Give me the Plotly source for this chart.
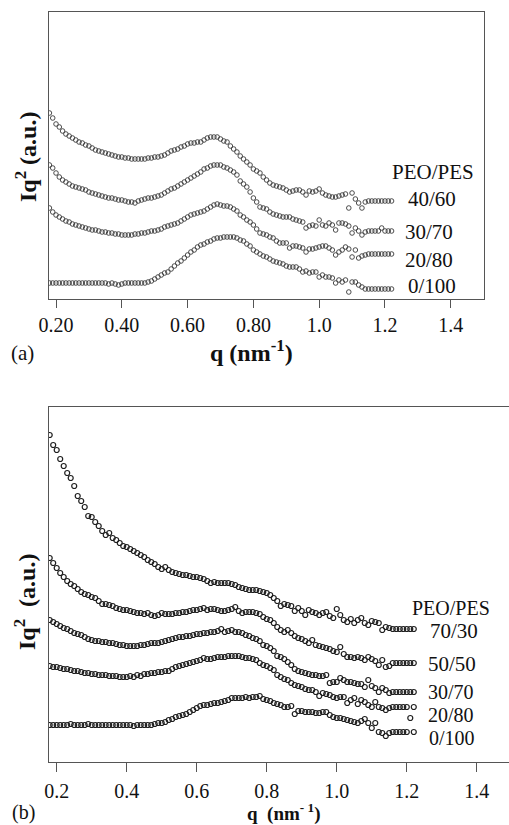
import plotly.graph_objects as go

# ---------------- data ----------------
Q = [0.18, 0.19, 0.20, 0.21, 0.22, 0.23, 0.24, 0.25, 0.26, 0.27,
     0.28, 0.29, 0.30, 0.31, 0.32, 0.33, 0.34, 0.35, 0.36, 0.37,
     0.38, 0.39, 0.40, 0.41, 0.42, 0.43, 0.44, 0.45, 0.46, 0.47,
     0.48, 0.49, 0.50, 0.51, 0.52, 0.53, 0.54, 0.55, 0.56, 0.57,
     0.58, 0.59, 0.60, 0.61, 0.62, 0.63, 0.64, 0.65, 0.66, 0.67,
     0.68, 0.69, 0.70, 0.71, 0.72, 0.73, 0.74, 0.75, 0.76, 0.77,
     0.78, 0.79, 0.80, 0.81, 0.82, 0.83, 0.84, 0.85, 0.86, 0.87,
     0.88, 0.89, 0.90, 0.91, 0.92, 0.93, 0.94, 0.95, 0.96, 0.97,
     0.98, 0.99, 1.00, 1.01, 1.02, 1.03, 1.04, 1.05, 1.06, 1.07,
     1.08, 1.09, 1.10, 1.11, 1.12, 1.13, 1.14, 1.15, 1.16, 1.17,
     1.18, 1.19, 1.20, 1.21, 1.22]

# panel (a): Iq^2 (a.u.), vertically offset curves
A_40_60 = [186, 181, 175, 172, 168, 165, 163, 161, 159, 157,
           156, 154, 153, 151, 149, 148, 147, 146, 145, 144,
           143, 142, 142, 141, 141, 140, 140, 140, 140, 140,
           141, 141, 142, 142, 143, 144, 146, 148, 149, 150,
           152, 153, 155, 156, 156, 157, 157, 159, 161, 162,
           162, 162, 160, 158, 157, 153, 150, 147, 143, 140,
           137, 134, 130, 128, 126, 122, 119, 116, 114, 113,
           112, 111, 109, 107, 108, 109, 109, 107, 104, 108,
           107, 108, 110, 106, 104, 103, 102, 102, 103, 104,
           105, 91, 106, 100, 96, 91, 97, 98, 98, 98,
           98, 98, 98, 98, 98]
A_30_70 = [134, 131, 126, 122, 119, 117, 115, 113, 112, 111,
           110, 109, 107, 106, 105, 104, 103, 102, 101, 101,
           100, 99, 99, 98, 97, 97, 96, 98, 99, 100,
           101, 101, 102, 103, 104, 106, 108, 110, 111, 113,
           115, 117, 119, 121, 123, 125, 127, 130, 131, 133,
           134, 134, 134, 132, 131, 129, 127, 124, 118, 115,
           112, 107, 101, 97, 92, 91, 90, 87, 85, 84,
           83, 82, 82, 82, 80, 79, 78, 77, 71, 73,
           74, 73, 79, 74, 73, 76, 74, 69, 76, 76,
           75, 73, 66, 71, 68, 64, 67, 68, 68, 68,
           68, 71, 68, 68, 68]
A_20_80 = [91, 87, 84, 82, 80, 78, 77, 75, 74, 73,
           72, 71, 70, 69, 69, 68, 67, 67, 66, 66,
           65, 65, 64, 64, 64, 64, 65, 65, 66, 66,
           67, 68, 68, 69, 70, 72, 73, 74, 75, 76,
           78, 80, 82, 84, 85, 86, 87, 88, 90, 92,
           94, 95, 94, 93, 93, 92, 90, 88, 84, 82,
           79, 77, 74, 70, 66, 65, 64, 62, 61, 58,
           56, 56, 56, 51, 53, 53, 52, 51, 47, 50,
           50, 51, 52, 53, 53, 51, 49, 44, 47, 49,
           52, 50, 42, 49, 41, 43, 44, 45, 45, 45,
           45, 45, 45, 45, 45]
A_0_100 = [16, 16, 16, 16, 16, 16, 16, 16, 16, 16,
           16, 16, 16, 16, 16, 16, 16, 16, 15, 16,
           15, 14, 15, 16, 16, 16, 16, 16, 16, 16,
           17, 18, 20, 22, 24, 26, 27, 30, 33, 36,
           38, 41, 44, 47, 49, 52, 54, 55, 57, 58,
           60, 61, 61, 62, 62, 62, 62, 61, 59, 58,
           55, 53, 49, 47, 45, 43, 42, 40, 38, 37,
           36, 35, 33, 32, 32, 32, 30, 27, 28, 26,
           27, 27, 22, 24, 22, 22, 21, 16, 19, 17,
           19, 7, 17, 17, 14, 12, 10, 10, 10, 10,
           10, 10, 10, 10, 10]

# panel (b)
B_70_30 = [327, 317, 312, 303, 296, 289, 284, 276, 266, 261,
           255, 246, 245, 240, 236, 231, 227, 229, 224, 222,
           219, 216, 215, 213, 211, 209, 207, 205, 202, 200,
           198, 195, 193, 195, 192, 190, 189, 188, 187, 187,
           186, 185, 185, 184, 183, 181, 179, 180, 179, 179,
           179, 179, 178, 177, 175, 174, 173, 172, 172, 172,
           171, 170, 169, 167, 164, 161, 156, 158, 157, 156,
           151, 154, 151, 147, 152, 150, 149, 147, 149, 150,
           146, 144, 153, 147, 142, 140, 143, 139, 142, 144,
           139, 137, 141, 140, 139, 132, 135, 134, 133, 133,
           133, 133, 133, 133, 133]
B_50_50 = [204, 199, 194, 189, 185, 181, 178, 176, 173, 170,
           168, 167, 165, 164, 161, 158, 158, 157, 156, 154,
           153, 152, 152, 151, 150, 149, 149, 148, 149, 147,
           146, 147, 149, 148, 148, 148, 149, 149, 150, 150,
           151, 152, 152, 153, 154, 152, 153, 153, 152, 151,
           151, 152, 153, 155, 151, 149, 150, 150, 150, 149,
           148, 145, 143, 142, 139, 135, 132, 130, 132, 129,
           126, 124, 123, 121, 119, 122, 117, 116, 115, 114,
           113, 111, 110, 115, 108, 105, 105, 104, 105, 104,
           102, 105, 103, 101, 97, 102, 95, 96, 99, 99,
           99, 99, 99, 99, 99]
B_30_70 = [142, 140, 138, 136, 134, 133, 131, 129, 128, 127,
           125, 123, 122, 121, 121, 120, 120, 119, 119, 118,
           117, 117, 116, 116, 116, 116, 117, 117, 118, 119,
           119, 119, 120, 121, 122, 123, 124, 125, 125, 126,
           126, 127, 128, 128, 129, 129, 130, 130, 131, 133,
           130, 131, 132, 130, 130, 129, 127, 126, 124, 123,
           121, 117, 116, 114, 111, 106, 105, 103, 100, 97,
           93, 91, 90, 89, 88, 87, 87, 86, 86, 87,
           79, 80, 80, 84, 82, 80, 80, 79, 78, 78,
           75, 82, 76, 74, 70, 74, 72, 69, 70, 70,
           70, 70, 70, 70, 70]
B_20_80 = [96, 95, 95, 94, 93, 93, 92, 91, 91, 90,
           89, 89, 88, 88, 87, 87, 87, 86, 86, 86,
           85, 85, 85, 86, 85, 87, 86, 88, 88, 89,
           89, 90, 90, 91, 91, 93, 95, 96, 97, 98,
           99, 100, 101, 102, 104, 103, 103, 104, 105, 105,
           105, 106, 106, 106, 106, 105, 104, 104, 103, 102,
           99, 97, 96, 94, 92, 87, 85, 83, 82, 79,
           77, 76, 75, 73, 72, 72, 70, 66, 69, 68,
           67, 65, 64, 65, 65, 59, 62, 64, 58, 62,
           60, 57, 55, 60, 55, 54, 52, 54, 55, 55,
           55, 55, 55, 44, 55]
B_0_100 = [37, 37, 37, 37, 37, 37, 38, 37, 37, 37,
           37, 38, 37, 37, 37, 37, 37, 37, 37, 37,
           37, 37, 37, 37, 36, 37, 37, 37, 37, 37,
           38, 39, 39, 40, 42, 43, 45, 46, 47, 48,
           50, 52, 54, 56, 57, 57, 58, 59, 59, 60,
           61, 62, 64, 64, 64, 64, 65, 64, 65, 65,
           66, 63, 62, 61, 59, 58, 57, 55, 55, 56,
           48, 51, 51, 50, 50, 50, 49, 49, 50, 50,
           47, 45, 44, 44, 43, 42, 41, 40, 39, 41,
           43, 39, 34, 39, 30, 29, 26, 29, 30, 30,
           30, 30, 30, None, 30]

A_SERIES = [A_40_60, A_30_70, A_20_80, A_0_100]
A_LABELS = ["40/60", "30/70", "20/80", "0/100"]
B_SERIES = [B_70_30, B_50_50, B_30_70, B_20_80, B_0_100]
B_LABELS = ["70/30", "50/50", "30/70", "20/80", "0/100"]

A_TICKS = [0.2, 0.4, 0.6, 0.8, 1.0, 1.2, 1.4]
A_TICKTEXT = ["0.20", "0.40", "0.60", "0.80", "1.0", "1.2", "1.4"]
B_TICKS = [0.2, 0.4, 0.6, 0.8, 1.0, 1.2, 1.4]
B_TICKTEXT = ["0.2", "0.4", "0.6", "0.8", "1.0", "1.2", "1.4"]

# ---------------- layout helpers ----------------
W, H = 509, 825
ML, MR, MT, MB = 49, 0, 12, 63
PW, PH = W - ML - MR, H - MT - MB


def px(x):
    return (x - ML) / PW


def py(y):
    return (H - MB - y) / PH


SERIF = "Liberation Serif, Times New Roman, serif"
AXC = "#555555"
INK = "#111111"

fig = go.Figure()
for s in A_SERIES:
    fig.add_trace(go.Scatter(
        x=Q, y=s, mode="markers", xaxis="x", yaxis="y", showlegend=False,
        marker=dict(symbol="circle-open", size=4.6, color="#3a3a3a",
                    line=dict(width=0.9, color="#3a3a3a"))))
for s in B_SERIES:
    fig.add_trace(go.Scatter(
        x=Q, y=s, mode="markers", xaxis="x2", yaxis="y2", showlegend=False,
        marker=dict(symbol="circle-open", size=5, color="#1e1e1e",
                    line=dict(width=1.2, color="#1e1e1e"))))

common_x = dict(showgrid=False, zeroline=False, showline=True, linecolor=AXC,
                linewidth=1.2, mirror=True, ticks="outside", ticklen=8,
                tickwidth=1, tickcolor=AXC, tickmode="array",
                tickfont=dict(family=SERIF, size=20, color=INK))
common_y = dict(showgrid=False, zeroline=False, showline=True, linecolor=AXC,
                linewidth=1.2, showticklabels=False, ticks="")

fig.update_layout(
    width=W, height=H, margin=dict(l=ML, r=MR, t=MT, b=MB, pad=0),
    paper_bgcolor="white", plot_bgcolor="white",
    xaxis=dict(common_x, domain=[0, px(484)], range=[0.1787, 1.501],
               anchor="y", tickvals=A_TICKS, ticktext=A_TICKTEXT),
    yaxis=dict(common_y, domain=[py(299), py(12)], range=[0, 287],
               anchor="x", mirror=True),
    xaxis2=dict(common_x, domain=[0, 1], range=[0.178, 1.492],
                anchor="y2", tickvals=B_TICKS, ticktext=B_TICKTEXT,
                tickfont=dict(family=SERIF, size=20, color=INK), ticklen=9,
                ticklabelstandoff=2),
    yaxis2=dict(common_y, domain=[0, py(407)], range=[0, 355],
                anchor="x2", mirror=False),
)

ann = []


def text(x, y, s, size=21, angle=0, xanchor="center"):
    ann.append(dict(x=px(x), y=py(y), xref="paper", yref="paper", text=s,
                    showarrow=False, textangle=angle, xanchor=xanchor,
                    yanchor="middle",
                    font=dict(family=SERIF, size=size, color=INK)))


# axis titles
text(251, 351, "<b>q (nm<sup>-1</sup>)</b>", size=24)
text(284, 812, "<b>q  (nm<sup>- 1</sup>)</b>", size=19)
text(26, 157, "<b>Iq<sup>2</sup> (a.u.)</b>", size=24, angle=-90)
text(25, 602, "<b>Iq<sup>2</sup>  (a.u.)</b>", size=24, angle=-90)
# panel tags
text(22, 353, "(a)", size=21)
text(23, 812, "(b)", size=20)

# series labels panel (a)
text(390, 172, "PEO/PES", xanchor="left")
for lab, xl, yc in zip(A_LABELS, [406, 403, 403, 406], [199, 232, 260, 286]):
    text(xl, yc, lab, xanchor="left")
# series labels panel (b)
text(410, 608, "PEO/PES", size=20, xanchor="left")
for lab, xl, yc in zip(B_LABELS, [428, 426, 426, 426, 427],
                       [631, 664, 692, 715, 738]):
    text(xl, yc, lab, size=20 if lab in ("30/70", "20/80", "0/100") else 21,
         xanchor="left")

fig.update_layout(annotations=ann)
fig.write_html("out.html")
